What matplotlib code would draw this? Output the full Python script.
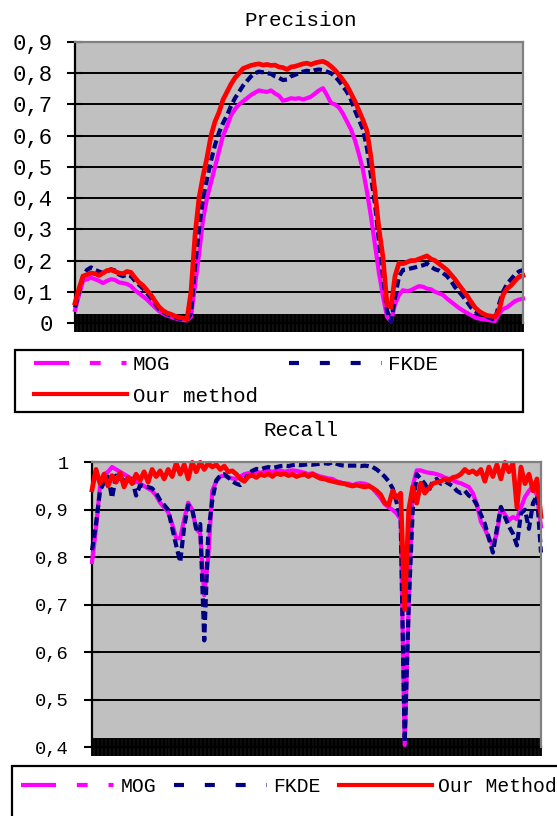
import numpy as np
import matplotlib.pyplot as plt
from matplotlib.lines import Line2D
from matplotlib.patches import Rectangle

# === Datos ===
precision_mog = [
    0.042, 0.09, 0.135, 0.14, 0.145, 0.14, 0.135, 0.128, 0.135, 0.14,
    0.138, 0.13, 0.128, 0.125, 0.118, 0.105, 0.095, 0.085, 0.075, 0.062,
    0.05, 0.038, 0.03, 0.024, 0.02, 0.015, 0.012, 0.01, 0.008, 0.02,
    0.12, 0.22, 0.33, 0.40, 0.45, 0.50, 0.55, 0.60, 0.63, 0.665,
    0.685, 0.70, 0.71, 0.72, 0.73, 0.738, 0.745, 0.742, 0.74, 0.745,
    0.735, 0.728, 0.712, 0.715, 0.72, 0.718, 0.72, 0.716, 0.72, 0.725,
    0.735, 0.745, 0.752, 0.73, 0.705, 0.70, 0.69, 0.67, 0.645, 0.62,
    0.585, 0.54, 0.49, 0.42, 0.34, 0.25, 0.16, 0.085, 0.02, 0.005,
    0.06, 0.09, 0.105, 0.102, 0.105, 0.112, 0.118, 0.116, 0.11, 0.108,
    0.10, 0.095, 0.09, 0.078, 0.068, 0.058, 0.048, 0.04, 0.032, 0.025,
    0.018, 0.014, 0.012, 0.01, 0.008, 0.006, 0.03, 0.045, 0.05, 0.06,
    0.07, 0.075, 0.078,
]
precision_fkde = [
    0.05, 0.10, 0.15, 0.17, 0.178, 0.17, 0.165, 0.16, 0.165, 0.172,
    0.168, 0.155, 0.15, 0.155, 0.15, 0.135, 0.122, 0.11, 0.095, 0.08,
    0.062, 0.045, 0.035, 0.028, 0.022, 0.018, 0.014, 0.012, 0.01, 0.03,
    0.18, 0.30, 0.40, 0.46, 0.52, 0.57, 0.61, 0.64, 0.665, 0.695,
    0.72, 0.74, 0.76, 0.775, 0.79, 0.80, 0.805, 0.803, 0.80, 0.798,
    0.79, 0.785, 0.778, 0.78, 0.79, 0.795, 0.80, 0.805, 0.808, 0.805,
    0.81, 0.812, 0.81, 0.805, 0.80, 0.79, 0.775, 0.758, 0.74, 0.715,
    0.68, 0.65, 0.62, 0.56, 0.47, 0.38, 0.26, 0.15, 0.04, 0.005,
    0.08, 0.15, 0.17, 0.172, 0.175, 0.178, 0.182, 0.185, 0.19, 0.18,
    0.172, 0.168, 0.16, 0.15, 0.135, 0.115, 0.10, 0.085, 0.068, 0.05,
    0.038, 0.03, 0.025, 0.02, 0.015, 0.01, 0.06, 0.10, 0.125, 0.14,
    0.155, 0.165, 0.17,
]
precision_ours = [
    0.064, 0.11, 0.15, 0.155, 0.16, 0.158, 0.152, 0.16, 0.168, 0.17,
    0.165, 0.16, 0.158, 0.165, 0.162, 0.145, 0.13, 0.12, 0.105, 0.09,
    0.07, 0.052, 0.04, 0.032, 0.028, 0.022, 0.018, 0.016, 0.012, 0.10,
    0.28, 0.40, 0.47, 0.53, 0.60, 0.645, 0.675, 0.715, 0.74, 0.765,
    0.785, 0.80, 0.815, 0.82, 0.825, 0.828, 0.83, 0.826, 0.828, 0.825,
    0.826, 0.82, 0.818, 0.812, 0.82, 0.822, 0.826, 0.83, 0.832, 0.828,
    0.833, 0.836, 0.838, 0.832, 0.822, 0.81, 0.795, 0.778, 0.76, 0.735,
    0.71, 0.68, 0.65, 0.615, 0.53, 0.42, 0.30, 0.21, 0.06, 0.05,
    0.15, 0.192, 0.19, 0.195, 0.20, 0.20, 0.205, 0.21, 0.215, 0.205,
    0.20, 0.19, 0.18, 0.17, 0.155, 0.14, 0.122, 0.105, 0.088, 0.068,
    0.05, 0.038, 0.03, 0.024, 0.022, 0.02, 0.04, 0.09, 0.11, 0.12,
    0.135, 0.148, 0.152,
]

recall_mog = [
    0.79, 0.86, 0.95, 0.975, 0.98, 0.99, 0.985, 0.98, 0.975, 0.97,
    0.965, 0.96, 0.955, 0.95, 0.945, 0.94, 0.93, 0.915, 0.905, 0.895,
    0.87, 0.84, 0.84, 0.88, 0.915, 0.90, 0.86, 0.85, 0.72, 0.80,
    0.94, 0.96, 0.97, 0.972, 0.968, 0.966, 0.965, 0.97, 0.975, 0.977,
    0.978, 0.98, 0.978, 0.98, 0.982, 0.98, 0.982, 0.983, 0.98, 0.982,
    0.983, 0.982, 0.98, 0.978, 0.975, 0.977, 0.973, 0.97, 0.968, 0.966,
    0.965, 0.96, 0.958, 0.955, 0.955, 0.952, 0.955, 0.956, 0.955, 0.952,
    0.945, 0.935, 0.925, 0.912, 0.905, 0.90, 0.892, 0.88, 0.405, 0.70,
    0.95, 0.983, 0.983, 0.98, 0.978, 0.977, 0.975, 0.972, 0.968, 0.965,
    0.962, 0.958, 0.956, 0.952, 0.948, 0.935, 0.912, 0.875, 0.86, 0.84,
    0.825, 0.85, 0.905, 0.89, 0.878, 0.885, 0.88, 0.905, 0.927, 0.94,
    0.95, 0.93, 0.865,
]
recall_fkde = [
    0.815, 0.87, 0.94, 0.958, 0.97, 0.925, 0.972, 0.965, 0.962, 0.958,
    0.965, 0.93, 0.952, 0.95, 0.948, 0.945, 0.935, 0.92, 0.91, 0.90,
    0.862, 0.825, 0.79, 0.865, 0.91, 0.90, 0.86, 0.87, 0.625, 0.85,
    0.92, 0.962, 0.972, 0.975, 0.968, 0.96, 0.955, 0.952, 0.96, 0.977,
    0.982, 0.986, 0.985, 0.988, 0.99, 0.988, 0.99, 0.992, 0.993, 0.992,
    0.994, 0.995, 0.994, 0.995, 0.996, 0.995, 0.996, 0.997, 0.998, 0.997,
    1.0, 0.997, 0.994, 0.993, 0.993, 0.993, 0.993, 0.992, 0.993, 0.992,
    0.99, 0.985, 0.978, 0.97, 0.96, 0.945, 0.915, 0.88, 0.41, 0.70,
    0.90, 0.975, 0.965, 0.955, 0.94, 0.96, 0.965, 0.955, 0.96, 0.955,
    0.95, 0.94, 0.935, 0.94, 0.93, 0.925, 0.91, 0.89, 0.87, 0.84,
    0.81, 0.86, 0.906, 0.885, 0.865, 0.85, 0.825, 0.893, 0.90, 0.86,
    0.914, 0.93, 0.81,
]
recall_ours = [
    0.942, 0.985, 0.955, 0.975, 0.95, 0.972, 0.958, 0.978, 0.948, 0.968,
    0.955, 0.975, 0.962, 0.98, 0.958, 0.985, 0.97, 0.982, 0.965, 0.985,
    0.97, 0.998, 0.975, 0.995, 0.965, 1.0, 0.98, 1.0, 0.985, 0.998,
    0.99, 0.995, 0.985, 0.992, 0.98, 0.982, 0.975, 0.965, 0.96, 0.97,
    0.973, 0.968, 0.975, 0.972, 0.976, 0.97, 0.977, 0.974, 0.976, 0.972,
    0.975, 0.97, 0.973, 0.975, 0.97, 0.975, 0.97, 0.966, 0.965, 0.962,
    0.96, 0.958, 0.956, 0.955, 0.952, 0.95, 0.952, 0.95, 0.948, 0.95,
    0.946, 0.94, 0.932, 0.915, 0.91, 0.94, 0.925, 0.935, 0.69, 0.90,
    0.948, 0.914, 0.956, 0.935, 0.945, 0.955, 0.958, 0.96, 0.965, 0.962,
    0.968, 0.97, 0.975, 0.985, 0.978, 0.982, 0.975, 0.985, 0.96, 0.99,
    0.97, 0.995, 0.965, 1.0, 0.98, 0.998, 0.905, 0.99, 0.955, 0.975,
    0.94, 0.965, 0.886,
]

prec_ticks = [0, 0.1, 0.2, 0.3, 0.4, 0.5, 0.6, 0.7, 0.8, 0.9]
prec_labels = ["0", "0,1", "0,2", "0,3", "0,4", "0,5", "0,6", "0,7", "0,8", "0,9"]
rec_ticks = [0.4, 0.5, 0.6, 0.7, 0.8, 0.9, 1.0]
rec_labels = ["0,4", "0,5", "0,6", "0,7", "0,8", "0,9", "1"]
nombres_prec = ["MOG", "FKDE", "Our method"]
nombres_rec = ["MOG", "FKDE", "Our Method"]

# === Estilo ===
W, H = 557, 816
FUENTE = ["Liberation Mono", "DejaVu Sans Mono"]
C_MOG = "#FF00FF"
C_FKDE = "#000080"
C_OURS = "#FF0000"
GRIS = "#C0C0C0"
BORDE = "#808080"


def caja(x0, y0, x1, y1):
    """Rectangulo en pixeles de la figura (origen arriba a la izquierda)."""
    return [x0 / W, 1 - y1 / H, (x1 - x0) / W, (y1 - y0) / H]


def dibujar_panel(ax, mog, fkde, ours, ticks, labels, ylim, tam, pad):
    x = np.arange(len(mog))
    ax.set_facecolor(GRIS)
    ax.plot(x, mog, color=C_MOG, lw=3, clip_on=False, zorder=3)
    ax.plot(x, fkde, color=C_FKDE, lw=3, linestyle=(0, (2.0, 1.0)), clip_on=False, zorder=4)
    ax.plot(x, ours, color=C_OURS, lw=3.4, clip_on=False, zorder=5)
    ax.set_xlim(0, len(mog) - 1)
    ax.set_ylim(*ylim)
    ax.set_yticks(ticks)
    ax.set_yticklabels(labels, family=FUENTE, fontsize=tam)
    # marcas del eje x muy densas, como en el original
    ax.set_xticks(np.arange(0, len(mog) - 0.9, 1 / 3))
    ax.tick_params(axis="x", direction="inout", length=12.5, width=1.35,
                   color="black", labelbottom=False)
    ax.tick_params(axis="y", direction="inout", length=11.5, width=1.5,
                   color="black", pad=pad)
    ax.yaxis.grid(True, color="black", lw=1.4)
    ax.set_axisbelow(True)
    for lado in ["top", "right"]:
        ax.spines[lado].set_color(BORDE)
        ax.spines[lado].set_linewidth(1.6)
        ax.spines[lado].set_zorder(6)
    ax.spines["left"].set_color("black")
    ax.spines["left"].set_linewidth(1.6)
    ax.spines["bottom"].set_color("black")
    ax.spines["bottom"].set_linewidth(1.6)


def manijas():
    h_mog = Line2D([], [], color=C_MOG, lw=3,
                   linestyle=(0, (8.4, 5.0, 2.6, 5.0, 1.2, 20)))
    h_fkde = Line2D([], [], color=C_FKDE, lw=3, linestyle=(0, (2.4, 5.0)))
    h_ours = Line2D([], [], color=C_OURS, lw=3)
    return h_mog, h_fkde, h_ours


fig = plt.figure(figsize=(W / 100, H / 100), dpi=100)

# --- Precision ---
ax1 = fig.add_axes(caja(75, 42, 523, 323))
dibujar_panel(ax1, precision_mog, precision_fkde, precision_ours,
              prec_ticks, prec_labels, (0, 0.9), 16, 10)
fig.text(301 / W, 1 - 20 / H, "Precision", ha="center", va="center",
         fontsize=15, family=FUENTE)

fig.add_artist(Rectangle((15 / W, 1 - 412 / H), 508 / W, 62 / H,
                         transform=fig.transFigure, facecolor="white",
                         edgecolor="black", lw=1.6, zorder=1))
h_mog, h_fkde, h_ours = manijas()
fig.legend([h_mog, h_ours, h_fkde], [nombres_prec[0], nombres_prec[2], nombres_prec[1]],
           ncol=2, loc="upper left", bbox_to_anchor=(34 / W, 1 - 355 / H),
           frameon=False, borderpad=0, borderaxespad=0,
           handlelength=4.45, handletextpad=0.3, columnspacing=1.5,
           labelspacing=0.6, prop={"family": FUENTE, "size": 15})

# --- Recall ---
ax2 = fig.add_axes(caja(92, 462.3, 541, 747.3))
dibujar_panel(ax2, recall_mog, recall_fkde, recall_ours,
              rec_ticks, rec_labels, (0.4, 1.0), 13.5, 11)
fig.text(301 / W, 1 - 431 / H, "Recall", ha="center", va="center",
         fontsize=15, family=FUENTE)

fig.add_artist(Rectangle((12 / W, 1 - 840 / H), 580 / W, 74 / H,
                         transform=fig.transFigure, facecolor="white",
                         edgecolor="black", lw=1.6, zorder=1))
h_mog, h_fkde, h_ours = manijas()
fig.legend([h_mog, h_fkde, h_ours], nombres_rec,
           ncol=3, loc="upper left", bbox_to_anchor=(21 / W, 1 - 777 / H),
           frameon=False, borderpad=0, borderaxespad=0,
           handlelength=4.7, handletextpad=0.35, columnspacing=0.9,
           prop={"family": FUENTE, "size": 14.2})

fig.savefig("out.png", dpi=100)
